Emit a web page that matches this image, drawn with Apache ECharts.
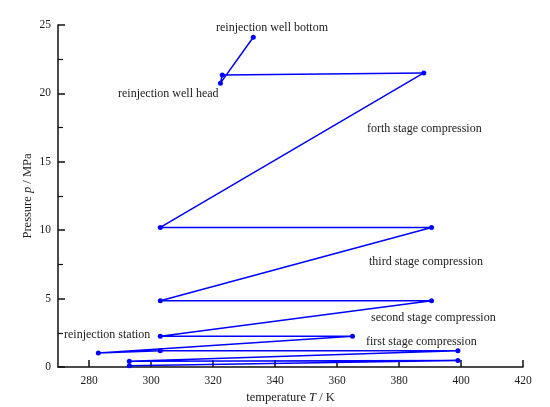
<!DOCTYPE html>
<html>
<head>
<meta charset="utf-8">
<script src="https://cdn.jsdelivr.net/npm/echarts@6/dist/echarts.min.js"></script>
<style>
  html, body { margin: 0; padding: 0; background: #fff; }
  #chart { width: 550px; height: 407px; }
</style>
</head>
<body>
<div id="chart"></div>
<script>
// process path, in order: temperature (K) and pressure (MPa)
const temps = [293, 399, 293, 399, 303, 283, 365, 303, 390.5, 303, 390.5, 303, 388, 323, 322.4, 333]
const pressures = [0.1, 0.48, 0.42, 1.19, 1.19, 1.02, 2.25, 2.25, 4.85, 4.85, 10.2, 10.2, 21.5, 21.35, 20.75, 24.1]

const stageLabels = [
  'reinjection well bottom',
  'reinjection well head',
  'forth stage compression',
  'third stage compression',
  'second stage compression',
  'first stage compression',
  'reinjection station',
]

const font = '"Liberation Serif", "DejaVu Serif", serif'
const textColor = '#1a1a1a'

const chart = echarts.init(document.getElementById('chart'))

// label spots in pixels (left edge, vertical centre)
const labelSpots = [
  [216, 28],
  [118, 94],
  [367, 129],
  [369, 262],
  [371, 318],
  [366, 342],
  [64, 335],
]

chart.setOption({
  animation: false,
  grid: { left: 58, right: 27, top: 25, bottom: 40, outerBoundsMode: 'none' },
  xAxis: {
    type: 'value',
    min: 270,
    max: 420,
    splitNumber: 7,
    name: '{n|temperature }{i|T}{n| / K}',
    nameLocation: 'middle',
    nameGap: 24,
    nameMoveOverlap: false,
    nameTextStyle: {
      rich: {
        n: { fontFamily: font, fontSize: 12.5, color: textColor },
        i: { fontFamily: font, fontSize: 12.5, color: textColor, fontStyle: 'italic' },
      },
    },
    axisLine: { lineStyle: { color: '#111', width: 1.5 } },
    axisTick: { inside: true, length: 7, lineStyle: { color: '#111', width: 1.5 } },
    axisLabel: { showMinLabel: false, fontFamily: font, fontSize: 11.5, color: textColor, margin: 8 },
    splitLine: { show: false },
  },
  yAxis: {
    type: 'value',
    min: 0,
    max: 25,
    interval: 5,
    name: '{n|Pressure }{i|p}{n| / MPa}',
    nameLocation: 'middle',
    nameGap: 24,
    nameMoveOverlap: false,
    nameRotate: 90,
    nameTextStyle: {
      rich: {
        n: { fontFamily: font, fontSize: 12.5, color: textColor },
        i: { fontFamily: font, fontSize: 12.5, color: textColor, fontStyle: 'italic' },
      },
    },
    axisLine: { show: true, lineStyle: { color: '#111', width: 1.5 } },
    axisTick: { show: true, inside: true, length: 7, lineStyle: { color: '#111', width: 1.5 } },
    minorTick: { show: true, splitNumber: 2, length: 5, lineStyle: { color: '#111', width: 1.2 } },
    axisLabel: { fontFamily: font, fontSize: 11.5, color: textColor, margin: 7 },
    splitLine: { show: false },
  },
  series: [
    {
      type: 'line',
      data: temps.map((t, i) => [t, pressures[i]]),
      symbol: 'circle',
      symbolSize: 5,
      lineStyle: { color: '#0000ff', width: 1.5 },
      itemStyle: { color: '#0000ff' },
    },
  ],
  graphic: stageLabels.map((txt, i) => ({
    type: 'text',
    x: labelSpots[i][0],
    y: labelSpots[i][1],
    style: {
      text: txt,
      font: '12px ' + font,
      fill: textColor,
      textAlign: 'left',
      textVerticalAlign: 'middle',
    },
  })),
})
</script>
</body>
</html>
